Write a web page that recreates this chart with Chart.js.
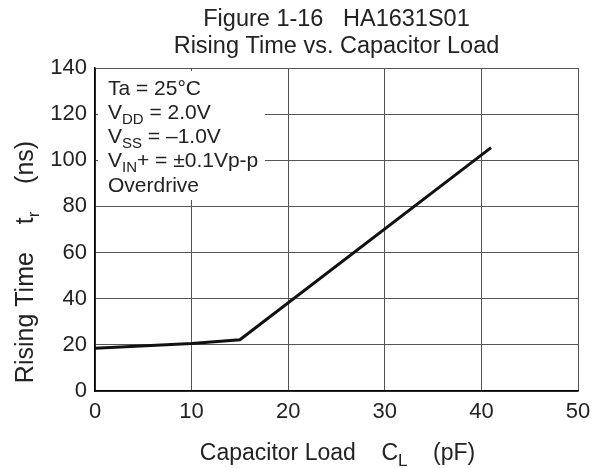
<!DOCTYPE html>
<html><head><meta charset="utf-8">
<script src="https://cdn.jsdelivr.net/npm/chart.js@4"></script>
<style>html,body{margin:0;padding:0;background:#fff}</style>
</head><body>
<canvas id="c" width="611" height="468"></canvas>
<script>
// ---- data ----
const capacitance = [0, 10, 15, 41];          // pF
const risingTime  = [18.5, 20.6, 22.2, 105.5]; // ns
const xTickValues = [0, 10, 20, 30, 40, 50];
const yTickValues = [0, 20, 40, 60, 80, 100, 120, 140];
const titleLines = ["Figure 1-16   HA1631S01", "Rising Time vs. Capacitor Load"];
const xTitle = [["Capacitor Load    C", false], ["L", true], ["    (pF)", false]];
const yTitle = [["Rising Time    t", false], ["r", true], ["    (ns)", false]];
const conditions = [
  [["Ta = 25°C", false]],
  [["V", false], ["DD", true], [" = 2.0V", false]],
  [["V", false], ["SS", true], [" = \u20131.0V", false]],
  [["V", false], ["IN", true], ["+ = \u00b10.1Vp-p", false]],
  [["Overdrive", false]]
];

const FONT = "'Liberation Sans', Arial, Helvetica, sans-serif";
const TXT = "#222";

function richWidth(ctx, segs, size, subSize) {
  let w = 0;
  for (const [t, s] of segs) { ctx.font = (s ? subSize : size) + "px " + FONT; w += ctx.measureText(t).width; }
  return w;
}
function drawRich(ctx, segs, x, y, align, size, subSize, drop) {
  const w = richWidth(ctx, segs, size, subSize);
  let cx = align === "center" ? x - w / 2 : x;
  ctx.textAlign = "left";
  ctx.textBaseline = "alphabetic";
  for (const [t, s] of segs) {
    ctx.font = (s ? subSize : size) + "px " + FONT;
    ctx.fillText(t, cx, s ? y + drop : y);
    cx += ctx.measureText(t).width;
  }
}

const textPlugin = {
  id: "texts",
  beforeDatasetsDraw(chart) {
    const ctx = chart.ctx;
    ctx.save();
    ctx.fillStyle = "#fff";
    ctx.fillRect(98, 71, 167, 129);
    ctx.fillStyle = TXT;
    const bases = [95, 119, 143, 167, 192];
    conditions.forEach((segs, i) => drawRich(ctx, segs, 108, bases[i], "left", 21, 15, 5));
    ctx.restore();
  },
  afterDraw(chart) {
    const ctx = chart.ctx;
    const a = chart.chartArea;
    const cx = (a.left + a.right) / 2;
    ctx.save();
    ctx.fillStyle = TXT;
    ctx.font = "23.5px " + FONT;
    ctx.textAlign = "center";
    ctx.textBaseline = "middle";
    ctx.fillText(titleLines[0], cx, 20);
    ctx.fillText(titleLines[1], cx, 47);
    drawRich(ctx, xTitle, cx + 1, 460, "center", 23, 17, 6);
    ctx.translate(33, 262);
    ctx.rotate(-Math.PI / 2);
    drawRich(ctx, yTitle, 0, 0, "center", 25, 17, 6);
    ctx.restore();
  }
};

new Chart(document.getElementById("c"), {
  type: "scatter",
  data: {
    datasets: [{
      data: capacitance.map((x, i) => ({ x, y: risingTime[i] })),
      showLine: true,
      borderColor: "#111",
      borderWidth: 3,
      pointRadius: 0,
      tension: 0
    }]
  },
  options: {
    responsive: false,
    animation: false,
    devicePixelRatio: 1,
    layout: { padding: { top: 68, right: 33, left: 0, bottom: 0 } },
    plugins: { legend: { display: false }, tooltip: { enabled: false }, title: { display: false } },
    scales: {
      x: {
        type: "linear", min: 0, max: 50,
        afterBuildTicks: s => { s.ticks = xTickValues.map(v => ({ value: v })); },
        afterFit: s => { s.height = 77; },
        grid: { color: "#555", lineWidth: 1, drawTicks: false },
        border: { color: "#000", width: 1.5 },
        ticks: { font: { size: 22, family: FONT }, color: TXT, padding: 8, maxRotation: 0 }
      },
      y: {
        type: "linear", min: 0, max: 140,
        afterBuildTicks: s => { s.ticks = yTickValues.map(v => ({ value: v })); },
        afterFit: s => { s.width = 95; },
        grid: { color: "#555", lineWidth: 1, drawTicks: false },
        border: { color: "#000", width: 1.5 },
        ticks: { font: { size: 22, family: FONT }, color: TXT, padding: 8 }
      }
    }
  },
  plugins: [textPlugin]
});
</script>
</body></html>
